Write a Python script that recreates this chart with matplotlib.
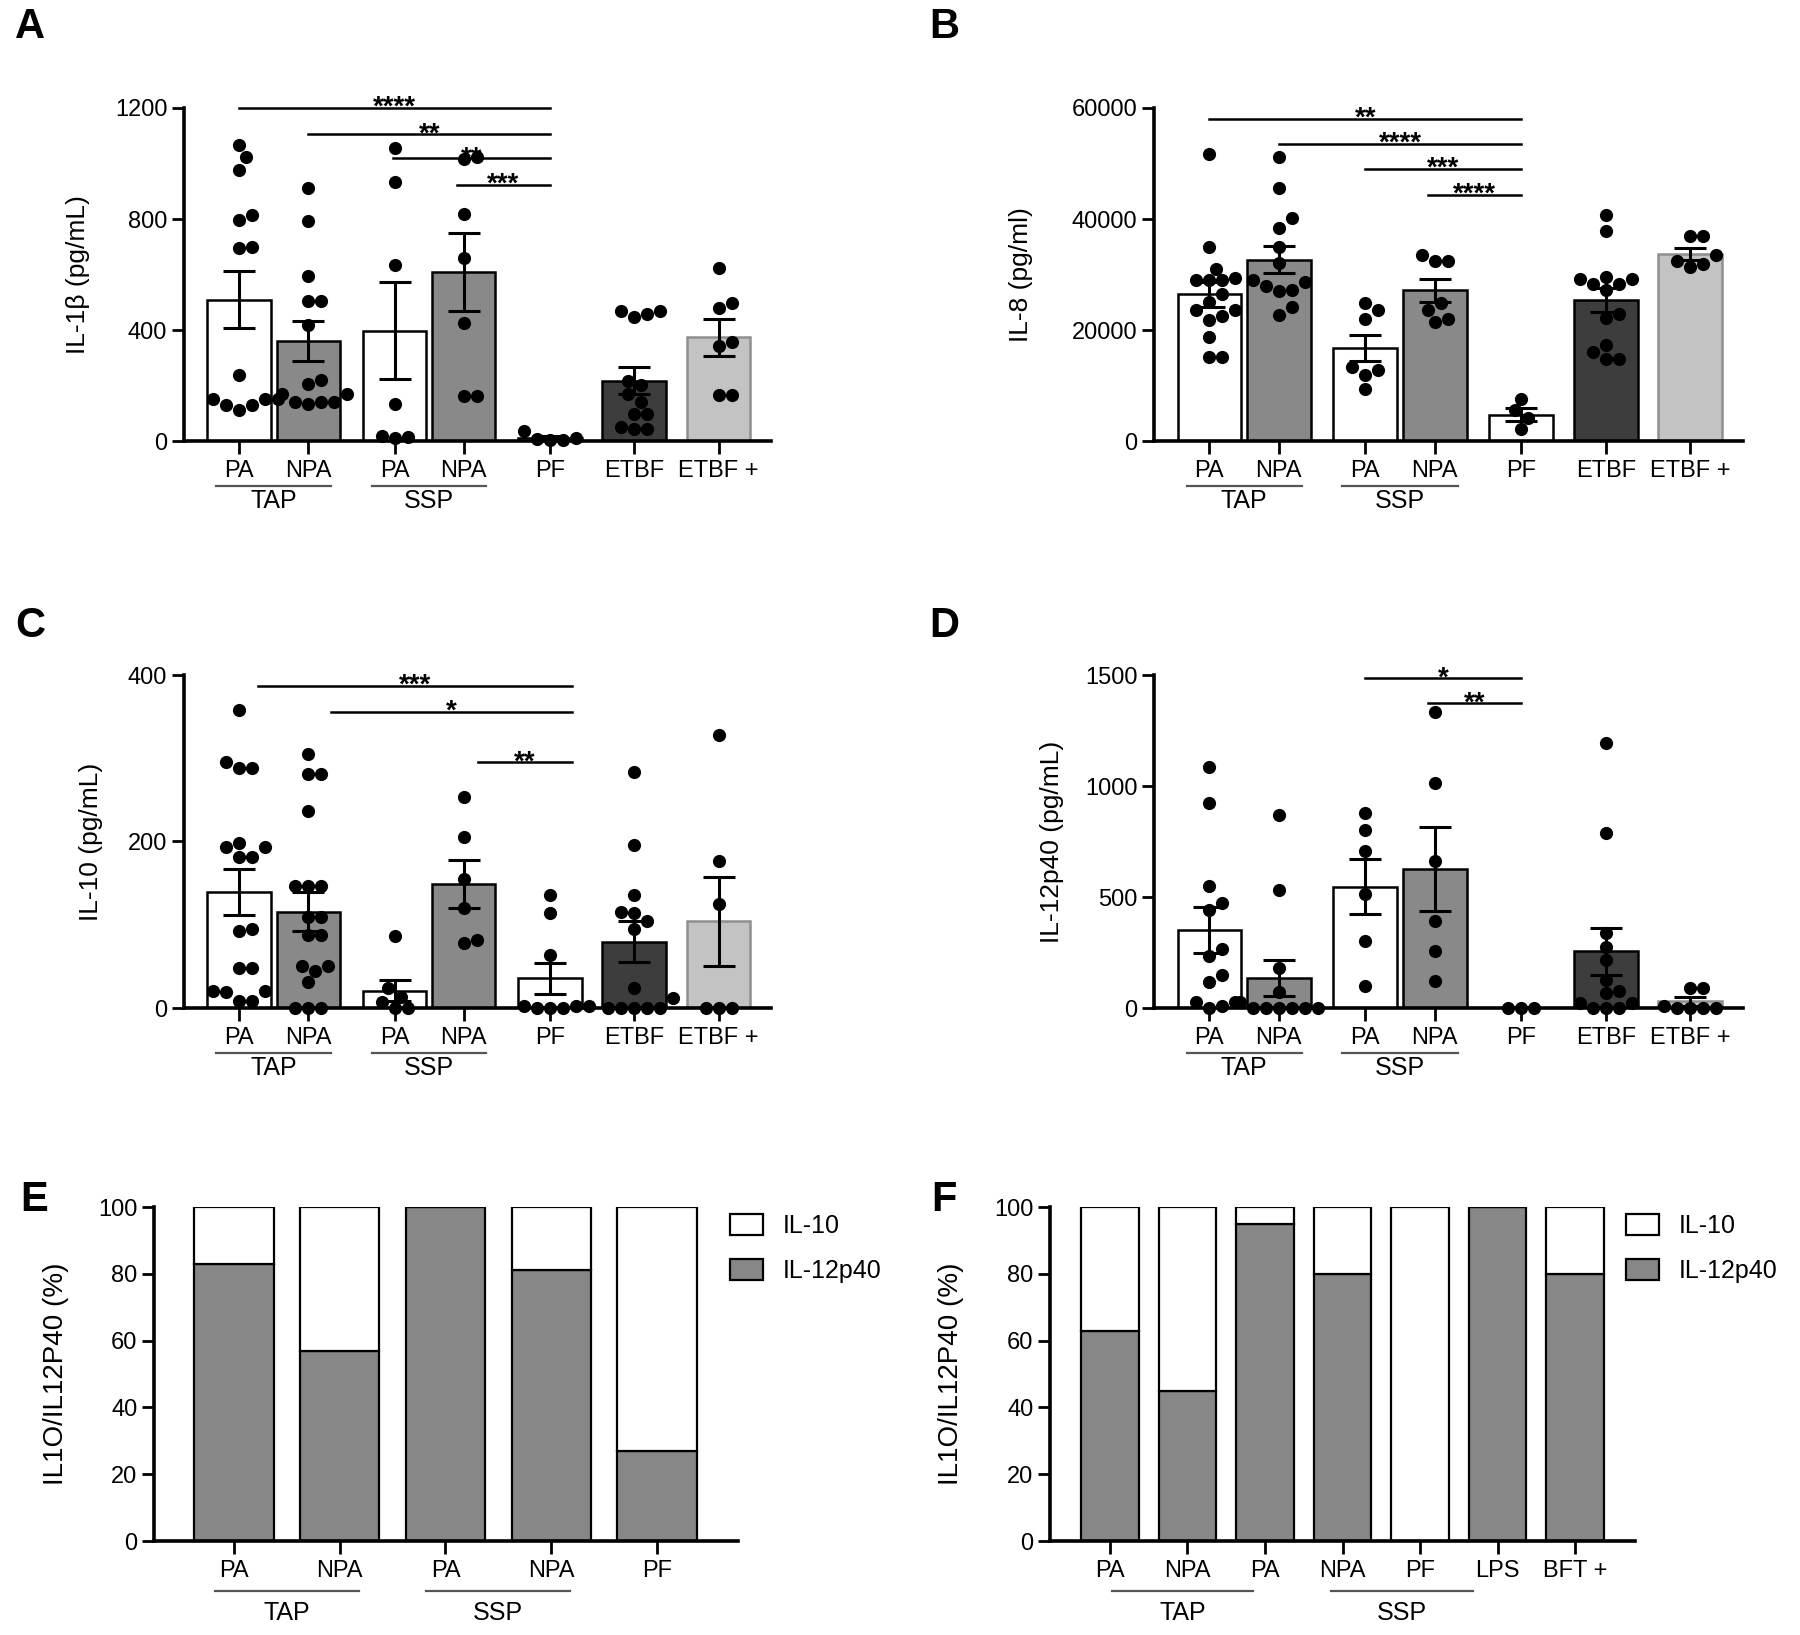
import matplotlib.pyplot as plt
from matplotlib.patches import Patch
from matplotlib.transforms import offset_copy
import numpy as np

plt.rcParams['font.family'] = ['Liberation Sans', 'DejaVu Sans']

# ---------------- data ----------------
groups = ['PA', 'NPA', 'PA', 'NPA', 'PF', 'ETBF', 'ETBF +']

# A  IL-1beta
il1b_mean = [509, 359, 398, 608, 10, 217, 374]
il1b_sem = [102, 72, 175, 140, 8, 48, 67]
il1b_pts = [
    [1068, 1022, 978, 816, 798, 700, 694, 237, 152, 152, 152, 128, 128, 112],
    [913, 792, 593, 505, 505, 417, 219, 205, 171, 171, 140, 140, 140, 134],
    [1056, 934, 633, 132, 18, 15, 12],
    [1023, 1017, 818, 658, 426, 161, 161],
    [37, 10, 8, 5, 2],
    [469, 467, 457, 447, 217, 201, 171, 140, 97, 97, 49, 43, 43],
    [624, 497, 481, 356, 341, 164, 164],
]
il1b_sig = [(0, 4.5, 1200, '****'), (1, 4.5, 1105, '**'),
            (2.23, 4.5, 1019, '**'), (3.15, 4.5, 922, '***')]

# B  IL-8
il8_mean = [26400, 32700, 16740, 27120, 4740, 25440, 33720]
il8_sem = [2250, 2490, 2340, 2040, 1140, 2160, 1140]
il8_pts = [
    [51720, 34920, 31020, 29340, 29040, 28920, 28920, 26520, 25020, 23520,
     23520, 22440, 21840, 18720, 15120, 15120],
    [51120, 45600, 40140, 38340, 34920, 32040, 28920, 28620, 27840, 27120,
     27000, 24120, 22620],
    [24840, 23520, 22020, 13320, 12840, 11820, 9420],
    [33600, 32520, 32520, 24840, 23640, 22020, 21420],
    [7620, 5520, 4200, 2220],
    [40740, 37920, 29520, 29220, 29160, 28200, 28200, 27120, 22920, 22080,
     17340, 16020, 14820, 14820],
    [36900, 36900, 33540, 32520, 31920, 31320],
]
il8_sig = [(0, 4.5, 58000, '**'), (1, 4.5, 53500, '****'),
           (2.25, 4.5, 49000, '***'), (3.15, 4.5, 44400, '****')]

# C  IL-10
il10_mean = [139.6, 115.7, 21, 148.7, 35.9, 79.8, 104]
il10_sem = [27.3, 23.2, 13, 29, 18.5, 24.4, 53.9]
il10_pts = [
    [358, 295, 288, 288, 198, 193, 193, 181, 181, 95, 92, 48, 48, 21, 21, 19, 9, 9],
    [305, 281, 281, 237, 147, 146, 146, 109, 109, 88, 88, 51, 51, 44, 31, 0, 0, 0],
    [86, 24, 13, 7, 0, 0],
    [254, 206, 155, 120, 82, 78],
    [136, 114, 64, 3, 2, 2, 0, 0, 0],
    [283, 196, 136, 115, 114, 105, 95, 24, 12, 0, 0, 0, 0, 0],
    [328, 177, 125, 0, 0, 0],
]
il10_sig = [(0.27, 4.82, 387, '***'), (1.33, 4.82, 356, '*'), (3.45, 4.82, 295, '**')]

# D  IL-12p40
il12_mean = [352, 135, 547, 627, 0, 255, 30]
il12_sem = [103, 80, 124, 190, 0, 107, 19]
il12_pts = [
    [1084, 922, 550, 475, 442, 265, 232, 150, 117, 25, 25, 7, 0],
    [870, 532, 180, 70, 25, 0, 0, 0, 0, 0, 0],
    [877, 802, 705, 513, 303, 100],
    [1333, 1015, 663, 393, 258, 120],
    [0, 0, 0],
    [1192, 790, 337, 277, 217, 127, 75, 67, 22, 22, 0, 0, 0],
    [90, 90, 10, 0, 0, 0, 0],
]
il12_sig = [(2.25, 4.5, 1485, '*'), (3.15, 4.5, 1372, '**')]

# E / F  share of IL-12p40 (rest is IL-10), %
e_labels = ['PA', 'NPA', 'PA', 'NPA', 'PF']
e_il12 = [83, 57, 100, 81, 27]
f_labels = ['PA', 'NPA', 'PA', 'NPA', 'PF', 'LPS', 'BFT +']
f_il12 = [63, 45, 95, 80, 0, 100, 80]

# ---------------- layout / style ----------------
W, H = 1800, 1635
fig = plt.figure(figsize=(18, 16.35), dpi=100)

pos = [0, 1, 2.25, 3.25, 4.5, 5.72, 6.94]
fills = ['white', '#898989', 'white', '#898989', 'white', '#3d3d3d', '#c3c3c3']
edges = ['black', 'black', 'black', 'black', 'black', 'black', '#8f8f8f']


def px_axes(left, top, right, bottom):
    return fig.add_axes([left / W, 1 - bottom / H, (right - left) / W, (bottom - top) / H])


def style(ax):
    for s in ['top', 'right']:
        ax.spines[s].set_visible(False)
    for s in ['left', 'bottom']:
        ax.spines[s].set_linewidth(2.6)
    ax.tick_params(axis='y', length=9, width=2, labelsize=17, pad=3)
    ax.tick_params(axis='x', length=9, width=2, labelsize=17, pad=5)


def swarm(vals, x_ppu, y_ppu, d=13.0):
    vals = np.asarray(vals, float)
    offs = np.zeros(len(vals))
    placed = []
    steps = [0] + [s * k for k in range(1, 40) for s in (1, -1)]
    for i in np.argsort(vals, kind='stable'):
        y = vals[i] * y_ppu
        for k in steps:
            x = k * d / 2
            if all((x - px) ** 2 + (y - py) ** 2 >= (0.97 * d) ** 2 for px, py in placed):
                break
        placed.append((x, y))
        offs[i] = x / x_ppu
    return offs


def under_labels(ax, lines, line_dy, text_dy, size=18):
    tl = offset_copy(ax.get_xaxis_transform(), fig=fig, y=-line_dy, units='dots')
    tt = offset_copy(ax.get_xaxis_transform(), fig=fig, y=-text_dy, units='dots')
    for name, x0, x1 in lines:
        ax.plot([x0, x1], [0, 0], transform=tl, color='#555555', lw=1.6, clip_on=False)
        ax.text((x0 + x1) / 2, 0, name, transform=tt, ha='center', va='center', fontsize=size)


def dot_panel(rect, means, sems, pts, yticks, ylabel, sig, label_x, letter, letter_xy):
    ax = px_axes(*rect)
    style(ax)
    ax.set_xlim(-0.8, 7.7)
    ax.set_ylim(0, yticks[-1])
    w_px = rect[2] - rect[0]
    h_px = rect[3] - rect[1]
    x_ppu = w_px / 8.5
    y_ppu = h_px / yticks[-1]
    ax.bar(pos, means, width=0.92, color=fills, edgecolor=edges, linewidth=1.8, zorder=2)
    for x, p in zip(pos, pts):
        off = swarm(p, x_ppu, y_ppu)
        ax.scatter(x + off, p, s=90, color='black', linewidths=0, zorder=3, clip_on=False)
    ax.errorbar(pos, means, yerr=sems, fmt='none', ecolor='black', elinewidth=2.2,
                capsize=11.5, capthick=2.2, zorder=4, clip_on=False)
    ax.set_yticks(yticks)
    ax.set_xticks(pos, groups)
    ax.set_ylabel(ylabel, fontsize=19)
    ax.yaxis.set_label_coords(label_x, 0.5)
    for x0, x1, y, stars in sig:
        ax.plot([x0, x1], [y, y], color='black', lw=1.8, clip_on=False, zorder=5)
        ax.annotate(stars, xy=((x0 + x1) / 2, y), xytext=(0, -5), textcoords='offset points',
                    ha='center', va='baseline', fontsize=20, fontweight='bold')
    under_labels(ax, [('TAP', 0.5 - 0.83, 0.5 + 0.83), ('SSP', 2.75 - 0.83, 2.75 + 0.83)], 45, 60)
    fig.text(letter_xy[0] / W, 1 - letter_xy[1] / H, letter, ha='center', va='center',
             fontsize=30, fontweight='bold')
    return ax


dot_panel((184, 108, 771, 441), il1b_mean, il1b_sem, il1b_pts, [0, 400, 800, 1200],
          'IL-1β (pg/mL)', il1b_sig, -0.16, 'A', (30, 27))
dot_panel((1154, 108, 1743, 441), il8_mean, il8_sem, il8_pts, [0, 20000, 40000, 60000],
          'IL-8 (pg/ml)', il8_sig, -0.205, 'B', (944, 27))
dot_panel((184, 675, 771, 1008), il10_mean, il10_sem, il10_pts, [0, 200, 400],
          'IL-10 (pg/mL)', il10_sig, -0.138, 'C', (30, 626))
dot_panel((1154, 675, 1743, 1008), il12_mean, il12_sem, il12_pts, [0, 500, 1000, 1500],
          'IL-12p40 (pg/mL)', il12_sig, -0.153, 'D', (944, 626))


def ratio_panel(rect, labels, il12, xlim, width, lines, label_x, leg_xy, letter, letter_xy):
    ax = px_axes(*rect)
    style(ax)
    x = np.arange(len(labels))
    il10 = [100 - v for v in il12]
    ax.bar(x, il12, width=width, color='#878787', edgecolor='black', linewidth=1.6, zorder=2)
    ax.bar(x, il10, bottom=il12, width=width, color='white', edgecolor='black',
           linewidth=1.6, zorder=2)
    ax.set_xlim(*xlim)
    ax.set_ylim(0, 100)
    ax.set_yticks([0, 20, 40, 60, 80, 100])
    ax.set_xticks(x, labels)
    ax.set_ylabel('IL1O/IL12P40 (%)', fontsize=20)
    ax.yaxis.set_label_coords(label_x, 0.5)
    under_labels(ax, lines, 50, 72)
    handles = [Patch(facecolor='white', edgecolor='black', linewidth=1.6),
               Patch(facecolor='#878787', edgecolor='black', linewidth=1.6)]
    fig.legend(handles, ['IL-10', 'IL-12p40'], loc='upper left',
               bbox_to_anchor=(leg_xy[0] / W, 1 - leg_xy[1] / H), frameon=False,
               fontsize=18, handlelength=1.3, handleheight=0.9, handletextpad=0.8,
               labelspacing=0.85, borderpad=0, borderaxespad=0)
    fig.text(letter_xy[0] / W, 1 - letter_xy[1] / H, letter, ha='center', va='center',
             fontsize=30, fontweight='bold')
    return ax


ratio_panel((154, 1207, 738, 1541), e_labels, e_il12, (-0.756, 4.766), 0.75,
            [('TAP', -0.18, 1.18), ('SSP', 1.82, 3.18)], -0.146, (730, 1214), 'E', (34, 1200))
ratio_panel((1050, 1207, 1635, 1541), f_labels, f_il12, (-0.774, 6.774), 0.74,
            [('TAP', 0.03, 1.85), ('SSP', 2.85, 4.68)], -0.147, (1626, 1214), 'F', (944, 1200))

fig.savefig('out.png', dpi=100, facecolor='white')
